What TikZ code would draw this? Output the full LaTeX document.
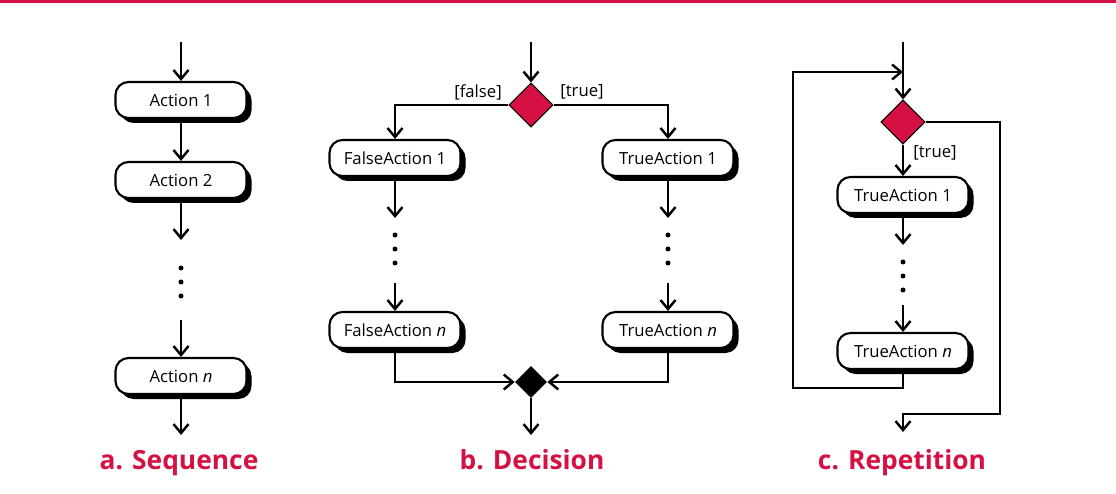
\documentclass[tikz,border=0pt]{standalone}
\usepackage{fontspec}
\setmainfont{Open Sans}
\usetikzlibrary{shapes.geometric, shadows, arrows.meta}
\definecolor{crimson}{RGB}{213,16,67}

\begin{document}
\begin{tikzpicture}[
        >={Straight Barb[length=1.8mm, width=3mm, line width=1.4pt]},
        flow/.style={->, line width=1.6pt},
        action/.style={draw, line width=1.2pt, fill=white, rounded corners=0.26cm, align=center,
            minimum width=2.62cm, minimum height=0.72cm, inner sep=0pt,
            font=\fontsize{9.5}{11}\selectfont,
            drop shadow={shadow xshift=0.1cm, shadow yshift=-0.1cm, fill=black, opacity=1}},
        decision/.style={diamond, draw, line width=0.6pt, fill=crimson, inner sep=0pt,
            minimum width=0.88cm, minimum height=0.88cm},
        merge/.style={diamond, fill=black, inner sep=0pt, minimum width=0.64cm, minimum height=0.64cm},
        guard/.style={font=\fontsize{9.5}{11}\selectfont, inner sep=0pt},
        dot/.style={circle, fill=black, inner sep=0pt, minimum size=0.1cm},
        caption/.style={anchor=base, text=crimson, font=\fontsize{15}{17}\selectfont\bfseries}
    ]
        \useasboundingbox (0,0) rectangle (22.32,-9.88);
        \fill[crimson] (0,0) rectangle (22.32,-0.07);

        % a. Sequence
        \coordinate (seqtop) at (3.62,-0.84);
        \node[action] (act1) at (3.62,-2.0) {Action 1};
        \node[action] (act2) at (3.62,-3.6) {Action 2};
        \coordinate (seqgap) at (3.62,-4.8);
        \node[dot] (sdot1) at (3.62,-5.36) {};
        \node[dot] (sdot2) at (3.62,-5.64) {};
        \node[dot] (sdot3) at (3.62,-5.92) {};
        \coordinate (seqres) at (3.62,-6.4);
        \node[action] (actn) at (3.62,-7.52) {Action \textit{n}};
        \coordinate (seqend) at (3.62,-8.7);
        \node[caption] (capa) at (3.58,-9.38) {a. Sequence};

        \draw[flow] (seqtop) -- (act1);
        \draw[flow] (act1) -- (act2);
        \draw[flow] (act2) -- (seqgap);
        \draw[flow] (seqres) -- (actn);
        \draw[flow] (actn) -- (seqend);

        % b. Decision
        \coordinate (dectop) at (10.62,-0.84);
        \node[decision] (dec) at (10.62,-2.1) {};
        \node[guard] (gfalse) at (9.56,-1.84) {[false]};
        \node[guard] (gtrue) at (11.64,-1.84) {[true]};
        \node[action] (fa1) at (7.90,-3.16) {FalseAction 1};
        \node[action] (ta1) at (13.36,-3.16) {TrueAction 1};
        \coordinate (fgap) at (7.90,-4.36);
        \coordinate (tgap) at (13.36,-4.36);
        \node[dot] (fdot1) at (7.90,-4.70) {};
        \node[dot] (fdot2) at (7.90,-4.98) {};
        \node[dot] (fdot3) at (7.90,-5.26) {};
        \node[dot] (tdot1) at (13.36,-4.70) {};
        \node[dot] (tdot2) at (13.36,-4.98) {};
        \node[dot] (tdot3) at (13.36,-5.26) {};
        \coordinate (fres) at (7.90,-5.66);
        \coordinate (tres) at (13.36,-5.66);
        \node[action] (fan) at (7.90,-6.6) {FalseAction \textit{n}};
        \node[action] (tan) at (13.36,-6.6) {TrueAction \textit{n}};
        \node[merge] (mrg) at (10.62,-7.64) {};
        \coordinate (decend) at (10.62,-8.7);
        \node[caption] (capb) at (10.64,-9.38) {b. Decision};

        \draw[flow] (dectop) -- (dec);
        \draw[flow] (dec) -| (fa1);
        \draw[flow] (dec) -| (ta1);
        \draw[flow] (fa1) -- (fgap);
        \draw[flow] (ta1) -- (tgap);
        \draw[flow] (fres) -- (fan);
        \draw[flow] (tres) -- (tan);
        \draw[flow] (fan) |- (mrg);
        \draw[flow] (tan) |- (mrg);
        \draw[flow] (mrg) -- (decend);

        % c. Repetition
        \coordinate (reptop) at (18.06,-0.84);
        \node[decision] (rep) at (18.06,-2.44) {};
        \node[guard] (rtrue) at (18.70,-3.06) {[true]};
        \node[action] (ra1) at (18.06,-3.9) {TrueAction 1};
        \coordinate (rgap) at (18.06,-4.9);
        \node[dot] (rdot1) at (18.06,-5.24) {};
        \node[dot] (rdot2) at (18.06,-5.52) {};
        \node[dot] (rdot3) at (18.06,-5.80) {};
        \coordinate (rres) at (18.06,-6.1);
        \node[action] (ran) at (18.06,-7.02) {TrueAction \textit{n}};
        \coordinate (loopbl) at (15.86,-7.76);
        \coordinate (looptl) at (15.86,-1.44);
        \coordinate (loopin) at (18.06,-1.44);
        \coordinate (exitr) at (20.0,-8.28);
        \coordinate (repend) at (18.06,-8.64);
        \node[caption] (capc) at (18.04,-9.38) {c. Repetition};

        \draw[flow] (reptop) -- (rep);
        \draw[flow] (ran) |- (loopbl) -- (looptl) -- (loopin);
        \draw[flow] (rep) -- (ra1);
        \draw[flow] (ra1) -- (rgap);
        \draw[flow] (rres) -- (ran);
        \draw[flow] (rep) -| (exitr) -| (repend);
    \end{tikzpicture}
\end{document}
